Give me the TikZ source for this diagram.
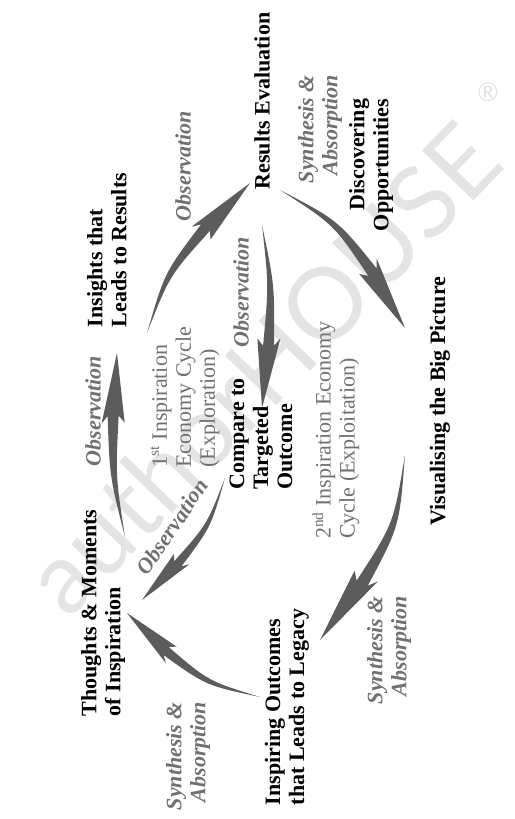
\documentclass[tikz,border=0pt]{standalone}
\usepackage{fontspec}
\setmainfont{Liberation Serif}
\newfontfamily\wmfont{Lato}
\usepackage{tikz}
\usetikzlibrary{calc}

\definecolor{arrowgray}{RGB}{92,92,92}
\definecolor{labelgray}{RGB}{112,112,112}
\definecolor{wmgray}{RGB}{228,228,228}

% curved spear arrow: [bend] {tail} {tip}
\newcommand{\cyclearrow}[3][0.07]{%
  \fill[arrowgray] let \p1=($(#3)-(#2)$), \n1={veclen(\x1,\y1)} in
    (#2) .. controls ($(#2)!0.33!(#3)!{(1.32*#1+0.016)*\n1}!90:(#3)$)
      .. ($(#2)!0.66!(#3)!{(0.8976*#1+0.03)*\n1}!90:(#3)$)
    -- ($(#2)!0.62!(#3)!{(0.9424*#1+0.063)*\n1}!90:(#3)$)
    -- (#3)
    -- ($(#2)!0.62!(#3)!{(0.9424*#1-0.063)*\n1}!90:(#3)$)
    -- ($(#2)!0.66!(#3)!{(0.8976*#1-0.03)*\n1}!90:(#3)$)
    .. controls ($(#2)!0.33!(#3)!{(1.32*#1-0.016)*\n1}!90:(#3)$) .. (#2) -- cycle;}

\begin{document}
\begin{tikzpicture}[x=1pt,y=-1pt,
  stage/.style={rotate=90,font=\fontsize{22}{24}\selectfont\bfseries,inner sep=0pt,align=left},
  cyclelbl/.style={rotate=90,font=\fontsize{22}{24}\selectfont,text=labelgray,inner sep=0pt,align=left},
  obslbl/.style={rotate=#1,font=\fontsize{22}{24}\selectfont\bfseries\itshape,text=labelgray,inner sep=0pt,align=right},
  obslbl/.default=90]
\useasboundingbox (0,0) rectangle (514,819);

% watermark
\node[rotate=46,font=\wmfont\fontsize{100}{100}\selectfont,text=wmgray,inner sep=0pt] (wmark) at (262,368) {authorHOUSE};
\node[font=\wmfont\fontsize{26}{26}\selectfont,text=wmgray,inner sep=0pt] (wmreg) at (488,92) {®};

% stages
\node[stage] (res) at (262,101) {Results Evaluation};
\node[stage] (ins) at (107,250) {Insights that\\Leads to Results};
\node[stage] (tho) at (103,613) {Thoughts \& Moments\\of Inspiration};
\node[stage] (outc) at (287,707) {Inspiring Outcomes\\that Leads to Legacy};
\node[stage] (vis) at (440,401) {Visualising the Big Picture};
\node[stage,align=right] (dis) at (371,165) {Discovering\\Opportunities};
\node[stage] (cmp) at (261,434) {Compare to\\Targeted\\Outcome};

% cycle names
\node[cyclelbl] (cyca) at (185,397) {1\textsuperscript{st} Inspiration\\Economy Cycle\\(Exploration)};
\node[cyclelbl] (cycb) at (336,430) {2\textsuperscript{nd} Inspiration Economy\\Cycle (Exploitation)};

% arrow labels
\foreach \nm/\x/\y in {obsa/93/411,obsb/183/166,obsc/241/292}
  \node[obslbl] (\nm) at (\x,\y) {Observation};
\node[obslbl=56] (obsd) at (172,527) {Observation};
\foreach \nm/\x/\y in {syna/320/129,synb/389/650,sync/188/756}
  \node[obslbl] (\nm) at (\x,\y) {Synthesis \&\\Absorption};

% arrow ends
\coordinate (ins-o) at (147,333);  \coordinate (res-i) at (250,183);
\coordinate (res-o) at (262,225);  \coordinate (cmp-i) at (262,408);
\coordinate (cmp-o) at (225,478);  \coordinate (tho-i) at (142,600);
\coordinate (tho-o) at (125,537);  \coordinate (ins-i) at (117,353);
\coordinate (res-o2) at (280,190); \coordinate (vis-i) at (405,328);
\coordinate (vis-o) at (405,455);  \coordinate (outc-i) at (320,640);
\coordinate (outc-o) at (260,697); \coordinate (tho-i2) at (127,613);

\foreach \s/\t/\b in {ins-o/res-i/0.07,res-o/cmp-i/0.04,cmp-o/tho-i/0.07,tho-o/ins-i/0.04,
  res-o2/vis-i/0.08,vis-o/outc-i/0.08,outc-o/tho-i2/0.08}
  \cyclearrow[\b]{\s}{\t};
\end{tikzpicture}
\end{document}
